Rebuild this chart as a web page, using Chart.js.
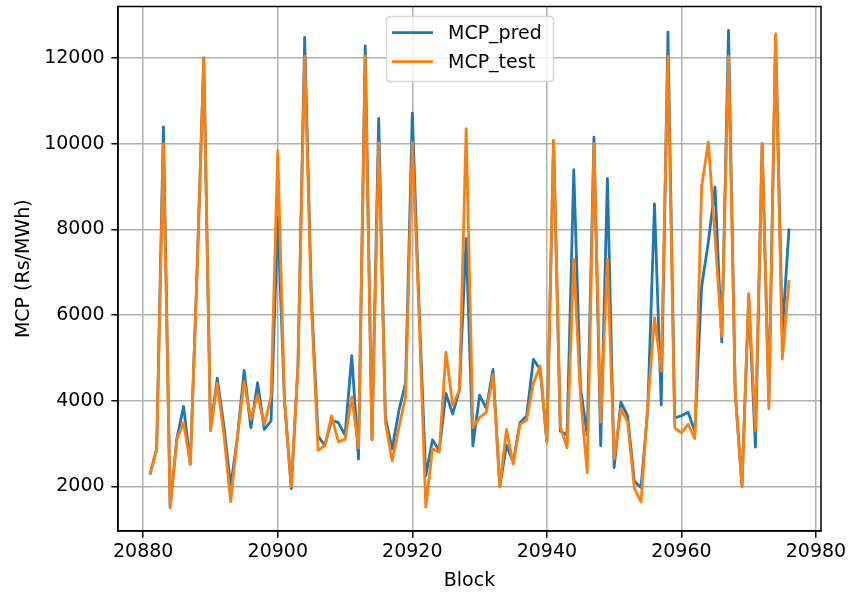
<!DOCTYPE html>
<html>
<head>
<meta charset="utf-8">
<script src="https://cdn.jsdelivr.net/npm/chart.js@4/dist/chart.umd.min.js"></script>
<style>
  html, body { margin: 0; padding: 0; background: #ffffff; }
  #c { display: block; }
</style>
</head>
<body>
<canvas id="c" width="850" height="593"></canvas>
<script>
const blocks = [
  20881, 20882, 20883, 20884, 20885, 20886, 20887, 20888, 20889, 20890,
  20891, 20892, 20893, 20894, 20895, 20896, 20897, 20898, 20899, 20900,
  20901, 20902, 20903, 20904, 20905, 20906, 20907, 20908, 20909, 20910,
  20911, 20912, 20913, 20914, 20915, 20916, 20917, 20918, 20919, 20920,
  20921, 20922, 20923, 20924, 20925, 20926, 20927, 20928, 20929, 20930,
  20931, 20932, 20933, 20934, 20935, 20936, 20937, 20938, 20939, 20940,
  20941, 20942, 20943, 20944, 20945, 20946, 20947, 20948, 20949, 20950,
  20951, 20952, 20953, 20954, 20955, 20956, 20957, 20958, 20959, 20960,
  20961, 20962, 20963, 20964, 20965, 20966, 20967, 20968, 20969, 20970,
  20971, 20972, 20973, 20974, 20975, 20976
];

const mcpPred = [
  2280, 2880, 10390, 1520, 3120, 3870, 2520, 7000, 12000, 3320,
  4530, 3400, 2000, 3150, 4710, 3370, 4420, 3330, 3530, 8270,
  4000, 1950, 4800, 12480, 6400, 3170, 2960, 3550, 3490, 3200,
  5050, 2640, 12280, 3090, 10590, 3600, 2880, 3770, 4410, 10710,
  6200, 2250, 3090, 2840, 4170, 3690, 4250, 7780, 2950, 4130,
  3820, 4730, 2000, 2960, 2560, 3490, 3650, 4970, 4730, 3040,
  10070, 3290, 3200, 9390, 4300, 3200, 10150, 2950, 9190, 2440,
  3970, 3650, 2120, 1980, 3800, 8590, 3900, 12600, 3600, 3650,
  3730, 3290, 6660, 7700, 8990, 5370, 12640, 4200, 2000, 6400,
  2920, 10000, 4000, 12500, 5600, 8020
];

const mcpTest = [
  2280, 2880, 10000, 1500, 3100, 3490, 2520, 7000, 12000, 3300,
  4410, 3200, 1650, 3150, 4450, 3570, 4130, 3450, 4090, 9830,
  4000, 2000, 4800, 12040, 6200, 2840, 2960, 3650, 3040, 3100,
  4090, 2900, 12040, 3090, 10020, 3490, 2600, 3370, 4090, 10030,
  6000, 1520, 2880, 2800, 5130, 3890, 4250, 10350, 3370, 3610,
  3730, 4610, 2000, 3330, 2520, 3450, 3550, 4410, 4810, 3040,
  10070, 3400, 2900, 7300, 4100, 2320, 10000, 3500, 7300, 2640,
  3810, 3500, 1960, 1640, 3900, 5940, 4690, 12040, 3370, 3250,
  3450, 3120, 8990, 10040, 7800, 5500, 12040, 4200, 2000, 6500,
  3300, 10000, 3810, 12560, 4970, 6820
];

const xTickValues = [20880, 20900, 20920, 20940, 20960, 20980];
const yTickValues = [2000, 4000, 6000, 8000, 10000, 12000];
const seriesLabels = ['MCP_pred', 'MCP_test'];
const seriesColors = ['#1f77b4', '#ff7f0e'];

const FONT = "'DejaVu Sans', 'Liberation Sans', sans-serif";

const framePlugin = {
  id: 'frame',
  afterDatasetsDraw(chart) {
    const { ctx, chartArea: a } = chart;
    ctx.save();
    ctx.strokeStyle = '#000000';
    ctx.lineWidth = 1.5;
    ctx.strokeRect(a.left, a.top, a.right - a.left, a.bottom - a.top);
    ctx.restore();
  }
};

const boxLegendPlugin = {
  id: 'boxLegend',
  afterDraw(chart) {
    const ctx = chart.ctx;
    const left = 386.5, top = 16.5, w = 167, h = 65, r = 4;
    ctx.save();
    ctx.beginPath();
    ctx.moveTo(left + r, top);
    ctx.lineTo(left + w - r, top);
    ctx.quadraticCurveTo(left + w, top, left + w, top + r);
    ctx.lineTo(left + w, top + h - r);
    ctx.quadraticCurveTo(left + w, top + h, left + w - r, top + h);
    ctx.lineTo(left + r, top + h);
    ctx.quadraticCurveTo(left, top + h, left, top + h - r);
    ctx.lineTo(left, top + r);
    ctx.quadraticCurveTo(left, top, left + r, top);
    ctx.closePath();
    ctx.fillStyle = 'rgba(255,255,255,0.8)';
    ctx.fill();
    ctx.strokeStyle = '#d6d6d6';
    ctx.lineWidth = 1.5;
    ctx.stroke();
    const rowsY = [32.7, 61.7];
    chart.data.datasets.forEach((ds, i) => {
      const y = rowsY[i];
      ctx.beginPath();
      ctx.moveTo(392, y);
      ctx.lineTo(433, y);
      ctx.strokeStyle = ds.borderColor;
      ctx.lineWidth = 2.8;
      ctx.stroke();
      ctx.fillStyle = '#000000';
      ctx.font = '19px ' + FONT;
      ctx.textBaseline = 'middle';
      ctx.textAlign = 'left';
      ctx.fillText(ds.label, 448, y + 1);
    });
    ctx.restore();
  }
};

const datasets = [
  {
    label: seriesLabels[0],
    data: blocks.map((b, i) => ({ x: b, y: mcpPred[i] })),
    borderColor: seriesColors[0],
    backgroundColor: seriesColors[0],
    borderWidth: 2.8,
    pointRadius: 0,
    tension: 0,
    fill: false,
    borderJoinStyle: 'round',
    order: 1
  },
  {
    label: seriesLabels[1],
    data: blocks.map((b, i) => ({ x: b, y: mcpTest[i] })),
    borderColor: seriesColors[1],
    backgroundColor: seriesColors[1],
    borderWidth: 2.8,
    pointRadius: 0,
    tension: 0,
    fill: false,
    borderJoinStyle: 'round',
    order: 0
  }
];

new Chart(document.getElementById('c'), {
  type: 'line',
  data: { datasets },
  plugins: [framePlugin, boxLegendPlugin],
  options: {
    responsive: false,
    animation: false,
    devicePixelRatio: 1,
    layout: { padding: { left: 0, right: 29, top: 6.5, bottom: 0 } },
    plugins: {
      legend: { display: false },
      tooltip: { enabled: false }
    },
    scales: {
      x: {
        type: 'linear',
        min: 20876.25,
        max: 20980.75,
        afterFit(scale) {
          scale.height = 62;
          scale.paddingLeft = 0;
          scale.paddingRight = 0;
        },
        afterBuildTicks(scale) { scale.ticks = xTickValues.map(v => ({ value: v })); },
        ticks: {
          color: '#000000',
          font: { family: FONT, size: 19 },
          padding: 3,
          maxRotation: 0,
          autoSkip: false,
          callback: (v) => String(v)
        },
        grid: {
          color: '#b0b0b0',
          lineWidth: 1.5,
          drawTicks: true,
          tickLength: 6.7,
          tickColor: '#000000',
          tickWidth: 1.5
        },
        border: { display: true, color: '#000000', width: 1.5 },
        title: {
          display: true,
          text: 'Block',
          color: '#000000',
          font: { family: FONT, size: 19 },
          padding: { top: 0, bottom: 0.5 }
        }
      },
      y: {
        type: 'linear',
        min: 962,
        max: 13198,
        afterFit(scale) {
          scale.width = 118;
          scale.paddingTop = 0;
          scale.paddingBottom = 0;
        },
        afterBuildTicks(scale) { scale.ticks = yTickValues.map(v => ({ value: v })); },
        ticks: {
          color: '#000000',
          font: { family: FONT, size: 19 },
          padding: 6.7,
          autoSkip: false,
          callback: (v) => String(v)
        },
        grid: {
          color: '#b0b0b0',
          lineWidth: 1.5,
          drawTicks: true,
          tickLength: 6.7,
          tickColor: '#000000',
          tickWidth: 1.5
        },
        border: { display: true, color: '#000000', width: 1.5 },
        title: {
          display: true,
          text: 'MCP (Rs/MWh)',
          color: '#000000',
          font: { family: FONT, size: 19 },
          padding: { top: 12.5, bottom: 0 }
        }
      }
    }
  }
});
</script>
</body>
</html>
